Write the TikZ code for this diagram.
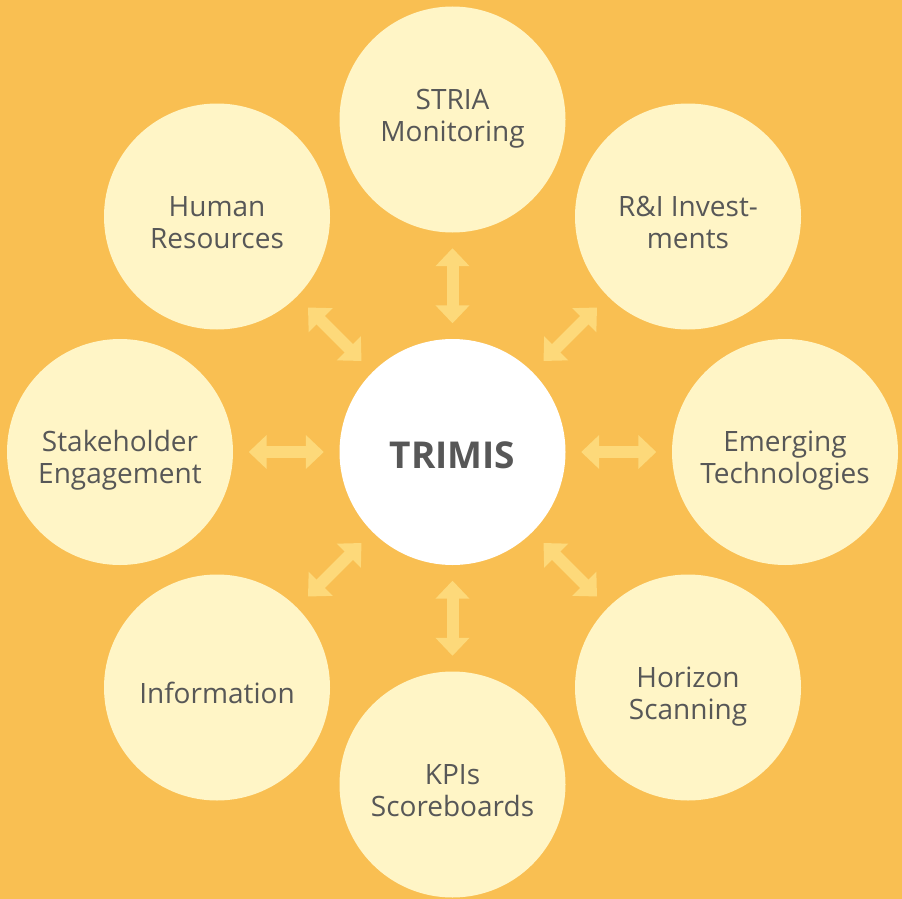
\documentclass[tikz,border=0pt]{standalone}
\usepackage{fontspec}
\setmainfont{Open Sans}
\usetikzlibrary{arrows.meta}
\definecolor{bgc}{HTML}{F9BF52}
\definecolor{outc}{HTML}{FFF5C6}
\definecolor{arrc}{HTML}{FDD97A}
\definecolor{txtc}{HTML}{575757}
\tikzset{
  outer/.style={circle, fill=outc, minimum size=226pt, inner sep=0pt, align=center, text=txtc,
    font=\fontsize{28}{32}\selectfont, text height=63pt, text depth=0pt},
  oneline/.style={text height=31pt},
  raised/.style={text height=43pt},
  hub/.style={circle, fill=white, minimum size=226pt, inner sep=0pt, text=txtc,
    font=\fontsize{37}{44}\selectfont\bfseries, text height=32pt, text depth=0pt},
  dblarrow/.style={draw=arrc, line width=12pt,
    {Triangle[width=33pt,length=18pt]}-{Triangle[width=33pt,length=18pt]},
    shorten <=15.5pt, shorten >=15.5pt}
}
\begin{document}
\begin{tikzpicture}[x=1pt,y=-1pt]
\fill[bgc] (0,0) rectangle (902,899);
\useasboundingbox (0,0) rectangle (902,899);
\node[hub] (c) at (452.5,452) {TRIMIS};
\node[outer,raised] (n) at (452.5,119.5) {STRIA\\Monitoring};
\node[outer] (ne) at (688,216.5) {R\&I Invest-\\ments};
\node[outer] (e) at (785,452) {Emerging\\Technologies};
\node[outer] (se) at (688,687.5) {Horizon\\Scanning};
\node[outer] (s) at (452.5,784.5) {KPIs\\Scoreboards};
\node[outer,oneline] (sw) at (217,687.5) {Information};
\node[outer] (w) at (120,452) {Stakeholder\\Engagement};
\node[outer] (nw) at (217,216.5) {Human\\Resources};
\foreach \o in {n,ne,e,se,s,sw,w,nw}
  \draw[dblarrow] (c) -- (\o);
\end{tikzpicture}
\end{document}
